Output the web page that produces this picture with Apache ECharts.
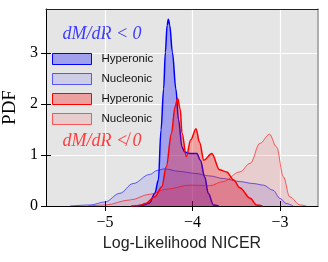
<!DOCTYPE html>
<html><head><meta charset="utf-8">
<script src="https://cdn.jsdelivr.net/npm/echarts@6/dist/echarts.min.js"></script>
<style>html,body{margin:0;padding:0;background:#fff}#c{width:328px;height:262px}</style>
</head><body><div id="c"></div>
<script>
// ---- data ----
const xTicks = [-5, -4, -3];
const yTicks = [0, 1, 2, 3];
const legendLabels = ['Hyperonic', 'Nucleonic', 'Hyperonic', 'Nucleonic'];
const groupLabels = ['dM/dR < 0', 'dM/dR \u226E 0'];

const bhX = [-4.65, -4.55, -4.49, -4.43, -4.39, -4.36, -4.33, -4.31, -4.29, -4.276, -4.26, -4.23, -4.19, -4.16, -4.12, -4.09, -4.03, -3.95, -3.91, -3.86, -3.82, -3.76, -3.7];
const bhY = [0, 0.02, 0.06, 0.25, 0.51, 1.49, 2.30, 3.02, 3.55, 3.67, 3.55, 3.02, 2.30, 1.70, 1.16, 1.06, 1.03, 1.03, 0.90, 0.57, 0.25, 0.02, 0];

const bnX = [-5.4, -5.17, -5.0, -4.83, -4.68, -4.49, -4.40, -4.32, -4.15, -3.97, -3.8, -3.65, -3.46, -3.3, -3.19, -3.08, -3.0, -2.93, -2.85];
const bnY = [0, 0.02, 0.08, 0.25, 0.44, 0.62, 0.70, 0.73, 0.68, 0.64, 0.59, 0.54, 0.48, 0.44, 0.41, 0.31, 0.15, 0.05, 0];

const rhX = [-4.7, -4.6, -4.54, -4.43, -4.35, -4.30, -4.24, -4.20, -4.17, -4.14, -4.12, -4.07, -4.02, -3.96, -3.92, -3.87, -3.78, -3.69, -3.61, -3.53, -3.46, -3.34, -3.27, -3.2];
const rhY = [0, 0.01, 0.05, 0.18, 0.38, 0.77, 1.43, 1.95, 2.11, 1.90, 1.43, 0.97, 1.30, 1.52, 1.25, 0.90, 1.03, 0.71, 0.67, 0.51, 0.36, 0.15, 0.02, 0];

const rnX = [-5.2, -5.0, -4.71, -4.49, -4.3, -4.03, -3.8, -3.65, -3.46, -3.34, -3.23, -3.12, -3.04, -2.96, -2.89, -2.77, -2.7];
const rnY = [0, 0.02, 0.12, 0.23, 0.33, 0.41, 0.40, 0.48, 0.67, 0.84, 1.23, 1.41, 1.16, 0.57, 0.18, 0.02, 0];

const xMin = -5.674, xMax = -2.566, yMin = 0, yMax = 3.87;

// ---- build ----
const zip = (xs, ys) => xs.map((x, i) => [x, ys[i]]);
const minus = v => (v < 0 ? '\u2212' + Math.abs(v) : String(v));
const names = legendLabels.map((l, i) => l + '#' + i);

const specs = [
  { x: bhX, y: bhY, line: '#0000ff', lw: 1.5, fill: 'rgba(0,0,255,0.3)' },
  { x: bnX, y: bnY, line: 'rgba(0,0,255,0.6)', lw: 1, fill: 'rgba(0,0,255,0.1)' },
  { x: rhX, y: rhY, line: '#ff0000', lw: 1.5, fill: 'rgba(255,0,0,0.3)' },
  { x: rnX, y: rnY, line: 'rgba(255,0,0,0.6)', lw: 1, fill: 'rgba(255,0,0,0.1)' }
];

const serif = '"Liberation Serif", "DejaVu Serif", serif';
const sans = '"Liberation Sans", "DejaVu Sans", sans-serif';

const chart = echarts.init(document.getElementById('c'), null, { renderer: 'canvas' });
chart.setOption({
  animation: false,
  backgroundColor: '#ffffff',
  grid: { left: 46, top: 9, right: 10, bottom: 56, show: true, backgroundColor: '#e5e5e5', borderWidth: 0, containLabel: false, outerBoundsMode: 'none' },
  xAxis: [
    {
      type: 'value', min: xMin, max: xMax, position: 'bottom',
      axisLine: { show: true, onZero: false, lineStyle: { color: '#000', width: 1 } },
      axisTick: { show: true, inside: false, length: 5, customValues: xTicks, lineStyle: { color: '#000', width: 1 } },
      axisLabel: { customValues: xTicks, formatter: minus, margin: 9, color: '#000', fontFamily: serif, fontSize: 16 },
      splitLine: { show: true, lineStyle: { color: '#ffffff', width: 1.2 } },
      name: 'Log-Likelihood NICER', nameLocation: 'middle', nameGap: 28,
      nameTextStyle: { color: '#222', fontFamily: sans, fontSize: 16 }
    },
    {
      type: 'value', min: xMin, max: xMax, position: 'bottom',
      axisLine: { show: false },
      axisTick: { show: true, inside: true, length: 5, customValues: xTicks, lineStyle: { color: '#000', width: 1 } },
      axisLabel: { show: false }, splitLine: { show: false }
    },
    {
      type: 'value', min: xMin, max: xMax, position: 'top',
      axisLine: { show: true, onZero: false, lineStyle: { color: '#222', width: 1 } },
      axisTick: { show: false }, axisLabel: { show: false }, splitLine: { show: false }
    }
  ],
  yAxis: [
    {
      type: 'value', min: yMin, max: yMax, position: 'left',
      axisLine: { show: true, onZero: false, lineStyle: { color: '#000', width: 1 } },
      axisTick: { show: true, inside: false, length: 5, customValues: yTicks, lineStyle: { color: '#000', width: 1 } },
      axisLabel: { customValues: yTicks, margin: 8, color: '#000', fontFamily: serif, fontSize: 16 },
      splitLine: { show: true, lineStyle: { color: '#ffffff', width: 1.2 } },
      name: 'PDF', nameLocation: 'middle', nameGap: 21,
      nameTextStyle: { color: '#000', fontFamily: serif, fontSize: 19 }
    },
    {
      type: 'value', min: yMin, max: yMax, position: 'left',
      axisLine: { show: false },
      axisTick: { show: true, inside: true, length: 5, customValues: yTicks, lineStyle: { color: '#000', width: 1 } },
      axisLabel: { show: false }, splitLine: { show: false }
    },
    {
      type: 'value', min: yMin, max: yMax, position: 'right',
      axisLine: { show: true, onZero: false, lineStyle: { color: '#999', width: 1.5 } },
      axisTick: { show: false }, axisLabel: { show: false }, splitLine: { show: false }
    }
  ],
  legend: {
    orient: 'vertical', left: 52, top: 53, padding: 0, itemWidth: 39, itemHeight: 11, itemGap: 8,
    icon: 'rect', selectedMode: false,
    formatter: n => n.split('#')[0],
    textStyle: { color: '#111', fontFamily: sans, fontSize: 11.5, padding: [0, 0, 0, 5] },
    data: names.map((n, i) => ({
      name: n,
      itemStyle: { color: specs[i].fill, borderColor: specs[i].line, borderWidth: 1 }
    }))
  },
  graphic: [
    { type: 'text', x: 102, y: 34, style: { text: groupLabels[0], fill: '#3c3cff', font: 'italic 18px ' + serif, textAlign: 'center', textVerticalAlign: 'middle' } },
    { type: 'text', x: 102, y: 141, style: { text: groupLabels[1], fill: '#ff3c3c', font: 'italic 18px ' + serif, textAlign: 'center', textVerticalAlign: 'middle' } }
  ],
  series: specs.map((s, i) => ({
    name: names[i], type: 'line', xAxisIndex: 0, yAxisIndex: 0,
    data: zip(s.x, s.y), smooth: 0.35, smoothMonotone: 'x', showSymbol: false, symbol: 'none',
    lineStyle: { color: s.line, width: s.lw },
    itemStyle: { color: s.line },
    areaStyle: { color: s.fill, opacity: 1, origin: 'start' },
    z: 2 + i, silent: true
  }))
});
</script></body></html>
